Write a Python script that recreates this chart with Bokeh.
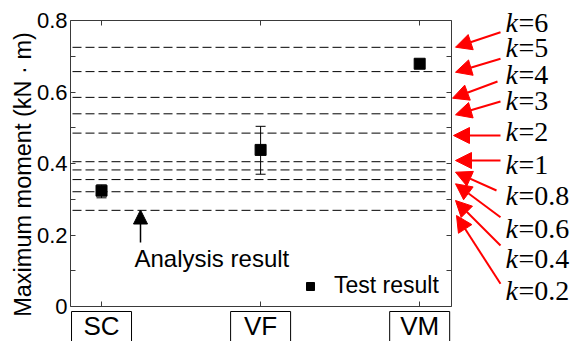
import math
from bokeh.plotting import figure
from bokeh.models import (LinearAxis, FixedTicker, Whisker, ColumnDataSource,
                          Arrow, NormalHead, TeeHead, Label, Range1d)
from bokeh.embed import file_html
from bokeh.resources import INLINE

# ---------------- data ----------------
categories = ["SC", "VF", "VM"]
cat_pos = [1, 2, 3]
test_mean = [0.324, 0.438, 0.679]
test_upper = [0.340, 0.504, 0.690]
test_lower = [0.304, 0.370, 0.668]

k_labels = ["6", "5", "4", "3", "2", "1", "0.8", "0.6", "0.4", "0.2"]
analysis_values = [0.725, 0.657, 0.585, 0.539, 0.485, 0.405, 0.382, 0.355, 0.321, 0.269]

y_ticks = [0, 0.2, 0.4, 0.6, 0.8]
y_tick_labels = ["0", "0.2", "0.4", "0.6", "0.8"]
y_minor = [0.1, 0.3, 0.5, 0.7]
y_right_ticks = [0, 0.1, 0.2, 0.3, 0.4, 0.5, 0.6, 0.7, 0.8]
y_title = "Maximum moment (kN · m)"

# ---------------- layout ----------------
W, H = 573, 341
FL, FR, FT, FB = 70, 451, 20, 306          # plot box in screen pixels
X0, X1 = 0.805, 3.2                        # data range of the plot box
Y0, Y1 = 0.0, 0.8
UX = (X1 - X0) / (FR - FL)
UY = (Y1 - Y0) / (FB - FT)

def dx(px):
    return X0 + (px - FL) * UX

def dy(py):
    return Y0 + (FB - py) * UY

def base_y(py, size):
    # compensate renderer's baseline placement for alphabetic labels
    return dy(py - 0.37 * size)

SANS = "Liberation Sans"
SERIF = "Liberation Serif"
AX = "#3a3a3a"

p = figure(width=W, height=H,
           x_range=Range1d(dx(0), dx(W)), y_range=Range1d(dy(H), dy(0)),
           output_backend="svg", toolbar_location=None,
           x_axis_type=None, y_axis_type=None,
           min_border=0, min_border_left=0, min_border_right=0,
           min_border_top=0, min_border_bottom=0)
p.outline_line_color = None
p.xgrid.visible = False
p.ygrid.visible = False
p.background_fill_color = "white"
p.border_fill_color = "white"

def style_axis(ax, tick_len=5):
    ax.axis_line_color = AX
    ax.major_tick_line_color = AX
    ax.minor_tick_line_color = AX
    ax.major_tick_in = tick_len
    ax.major_tick_out = 0
    ax.minor_tick_in = tick_len
    ax.minor_tick_out = 0

# left axis
yl = LinearAxis(ticker=FixedTicker(ticks=y_ticks, minor_ticks=y_minor),
                major_label_overrides={t: l for t, l in zip(y_ticks, y_tick_labels)},
                fixed_location=X0, bounds=(Y0, Y1))
style_axis(yl)
yl.major_label_text_font = SANS
yl.major_label_text_font_size = "22px"
yl.major_label_text_color = "black"
yl.major_label_standoff = 3
p.add_layout(yl, "left")

# y title
p.add_layout(Label(x=dx(22), y=dy(174), text=y_title, angle=math.pi / 2,
                   text_font=SANS, text_font_size="23.5px", text_color="black",
                   text_align="center", text_baseline="middle"))

# right axis
yr = LinearAxis(ticker=FixedTicker(ticks=y_right_ticks, minor_ticks=[]),
                major_label_overrides={t: "" for t in y_right_ticks},
                fixed_location=X1, bounds=(Y0, Y1))
style_axis(yr)
yr.major_label_text_font_size = "0px"
yr.major_label_standoff = 0
p.add_layout(yr, "right")

# bottom axis
xb = LinearAxis(ticker=FixedTicker(ticks=cat_pos, minor_ticks=[]),
                major_label_overrides={c: "" for c in cat_pos},
                fixed_location=Y0, bounds=(X0, X1))
style_axis(xb)
xb.major_label_text_font_size = "0px"
xb.major_label_standoff = 0
p.add_layout(xb, "below")

# top axis
xt = LinearAxis(ticker=FixedTicker(ticks=cat_pos, minor_ticks=[]),
                major_label_overrides={c: "" for c in cat_pos},
                fixed_location=Y1, bounds=(X0, X1))
style_axis(xt)
xt.major_label_text_font_size = "0px"
xt.major_label_standoff = 0
p.add_layout(xt, "above")

# analysis result dashed lines
lsrc = ColumnDataSource(dict(x0=[dx(FL + 2)] * len(analysis_values),
                             x1=[dx(FR - 3)] * len(analysis_values),
                             y=analysis_values))
p.segment(x0="x0", x1="x1", y0="y", y1="y", source=lsrc,
          line_color="black", line_width=1, line_dash="9 4")

# test results with error bars
src = ColumnDataSource(dict(x=cat_pos, y=test_mean, upper=test_upper, lower=test_lower))
p.add_layout(Whisker(source=src, base="x", upper="upper", lower="lower",
                     line_color="black", line_width=1,
                     upper_head=TeeHead(size=10, line_color="black", line_width=1),
                     lower_head=TeeHead(size=10, line_color="black", line_width=1)))
p.scatter("x", "y", source=src, marker="square", size=11, color="black",
          legend_label="Test result")

lg = p.legend[0]
lg.location = (291, 33)
lg.margin = 0
lg.padding = 9
lg.label_text_font = SANS
lg.label_text_font_size = "23px"
lg.label_text_color = "black"
lg.background_fill_alpha = 0
lg.border_line_alpha = 0
lg.glyph_width = 20
lg.label_standoff = 14

# "Analysis result" annotation
p.add_layout(Arrow(end=NormalHead(size=14, fill_color="black", line_color="black"),
                   x_start=dx(140), y_start=dy(242), x_end=dx(140), y_end=dy(209.5),
                   line_color="black", line_width=1.5))
p.add_layout(Label(x=dx(134), y=base_y(266.5, 24), text="Analysis result",
                   text_font=SANS, text_font_size="24px", text_color="black",
                   text_baseline="alphabetic", text_align="left"))

# category boxes under the axis
half_box = 30 * UX
csrc = ColumnDataSource(dict(left=[c - half_box for c in cat_pos],
                             right=[c + half_box for c in cat_pos],
                             top=[dy(311)] * len(cat_pos),
                             bottom=[dy(360)] * len(cat_pos)))
p.quad(left="left", right="right", top="top", bottom="bottom", source=csrc,
       fill_color=None, line_color="black", line_width=1)
for c, xc in zip(categories, cat_pos):
    p.add_layout(Label(x=xc, y=base_y(335, 26), text=c, text_font=SANS,
                       text_font_size="26px", text_color="black", text_align="center",
                       text_baseline="alphabetic"))

# k labels with red arrows
arrow_tail = [(500, 31.7), (500, 58.3), (497, 81), (500, 101), (500, 135),
              (500, 160), (496, 190), (500, 216.7), (500, 245), (500, 283.3)]
arrow_tip = [(455, 46.7), (455, 71.7), (452, 97.7), (455, 114.3), (453, 135),
             (455, 160), (455, 171.7), (455, 183.3), (455, 200), (456, 215)]
label_base = [32, 57, 84, 110, 141, 174, 205.5, 238, 268, 300]
for kl, (tx, ty), (hx, hy), by in zip(k_labels, arrow_tail, arrow_tip, label_base):
    p.add_layout(Arrow(end=NormalHead(size=16, fill_color="red", line_color="red"),
                       x_start=dx(tx), y_start=dy(ty), x_end=dx(hx), y_end=dy(hy),
                       line_color="red", line_width=2))
    p.add_layout(Label(x=dx(505), y=base_y(by, 28), text="k", text_font=SERIF,
                       text_font_style="italic", text_font_size="28px",
                       text_color="black", text_baseline="alphabetic"))
    p.add_layout(Label(x=dx(518), y=base_y(by, 28), text="=" + kl, text_font=SERIF,
                       text_font_size="28px", text_color="black",
                       text_baseline="alphabetic"))

open("out.html", "w").write(file_html(p, INLINE))
